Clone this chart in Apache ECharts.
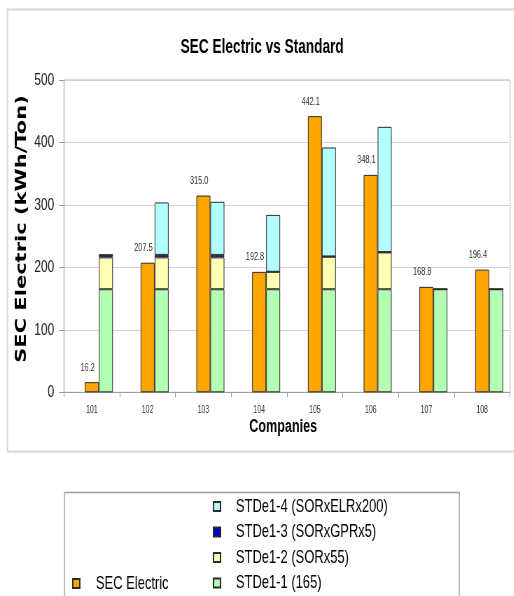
<!DOCTYPE html>
<html>
<head>
<meta charset="utf-8">
<script src="https://cdn.jsdelivr.net/npm/echarts@6/dist/echarts.min.js"></script>
<style>
  html, body { margin: 0; padding: 0; background: #fff; overflow: hidden; }
  /* the chart is laid out wide and then condensed horizontally, which gives
     the tall, narrow lettering of the original figure; the lower edge of the
     legend frame runs past the bottom of the page */
  #chart { width: 734px; height: 640px; transform: scaleX(0.7); transform-origin: 0 0; }
</style>
</head>
<body>
<div id="chart"></div>
<script>
// Companies on the category axis
const companies = ['101', '102', '103', '104', '105', '106', '107', '108'];
// Measured specific electricity consumption (kWh/Ton)
const secElectric = [16.2, 207.5, 315.0, 192.8, 442.1, 348.1, 168.8, 196.4];
// Standard components, stacked bottom to top
const stdE1_1 = [165, 165, 165, 165, 165, 165, 165, 165];
const stdE1_2 = [51, 51, 51, 28, 52, 59, 0, 0];
const stdE1_3 = [4, 4, 4, 0, 0.5, 0.5, 0, 0];
const stdE1_4 = [0, 84, 85, 91, 174.5, 200.5, 0, 0];
// Value axis ticks
const yTicks = [0, 100, 200, 300, 400, 500];

const SANS = "'Liberation Sans', Arial, sans-serif";
const EDGE = '#2b2b2b';
const BAR_W = 20;

const chart = echarts.init(document.getElementById('chart'), null, { renderer: 'canvas' });

function stdSeries(name, data, color) {
  return {
    name: name,
    type: 'bar',
    stack: 'standard',
    data: data,
    barWidth: BAR_W,
    barGap: '0%',
    itemStyle: { color: color, borderColor: EDGE, borderWidth: 1 },
    emphasis: { disabled: true }
  };
}

const legendText = { fontFamily: SANS, fontSize: 18.5, color: '#000' };

const option = {
  animation: false,
  backgroundColor: '#ffffff',
  title: {
    text: 'SEC Electric vs Standard',
    left: 253,
    top: 33,
    textStyle: { fontFamily: SANS, fontWeight: 'bold', fontSize: 19.5, color: '#000' }
  },
  legend: [
    {
      data: ['SEC Electric'],
      left: 103,
      top: 574,
      padding: 0,
      itemWidth: 10,
      itemHeight: 9,
      icon: 'rect',
      textStyle: Object.assign({ padding: [0, 0, 0, 18] }, legendText)
    },
    {
      data: ['STDe1-4 (SORxELRx200)', 'STDe1-3 (SORxGPRx5)', 'STDe1-2 (SORx55)', 'STDe1-1 (165)'],
      orient: 'vertical',
      left: 304,
      top: 497,
      padding: 0,
      itemGap: 6.5,
      itemWidth: 10,
      itemHeight: 9,
      icon: 'rect',
      textStyle: Object.assign({ padding: [0, 0, 0, 17] }, legendText)
    }
  ],
  grid: {
    left: 91.4,
    width: 637.2,
    top: 80,
    height: 312.3,
    show: true,
    borderColor: '#b5b5b5',
    borderWidth: 1,
    backgroundColor: '#ffffff'
  },
  xAxis: {
    type: 'category',
    data: companies,
    name: 'Companies',
    nameLocation: 'middle',
    nameGap: 26,
    nameTextStyle: { fontFamily: SANS, fontWeight: 'bold', fontSize: 18, color: '#000', padding: [0, 0, 0, -11] },
    axisLine: { lineStyle: { color: '#9a9a9a', width: 1 } },
    axisTick: { show: true, alignWithLabel: false, length: 5, lineStyle: { color: '#9a9a9a' } },
    axisLabel: { fontFamily: SANS, fontSize: 10, color: '#333', margin: 13 },
    splitLine: { show: false }
  },
  yAxis: {
    type: 'value',
    min: yTicks[0],
    max: yTicks[yTicks.length - 1],
    interval: yTicks[1] - yTicks[0],
    axisLine: { show: true, lineStyle: { color: '#9a9a9a', width: 1 } },
    axisTick: { show: true, length: 7, lineStyle: { color: '#9a9a9a' } },
    axisLabel: { fontFamily: SANS, fontSize: 17, color: '#222', margin: 14 },
    splitLine: { show: true, lineStyle: { color: '#d2d2d2', width: 1 } }
  },
  series: [
    {
      // empty leading slot so each company's pair sits right of the tick label
      name: 'spacer',
      type: 'bar',
      data: companies.map(() => '-'),
      barWidth: BAR_W,
      barGap: '0%',
      silent: true
    },
    {
      name: 'SEC Electric',
      type: 'bar',
      data: secElectric,
      barWidth: BAR_W,
      barGap: '0%',
      itemStyle: { color: '#FFA500', borderColor: EDGE, borderWidth: 1 },
      emphasis: { disabled: true },
      label: {
        show: true,
        position: 'top',
        distance: 9,
        offset: [-6, 0],
        fontFamily: SANS,
        fontSize: 10.5,
        color: '#333',
        formatter: p => Number(p.value).toFixed(1)
      }
    },
    stdSeries('STDe1-1 (165)', stdE1_1, '#B3FFB3'),
    stdSeries('STDe1-2 (SORx55)', stdE1_2, '#FFFFB3'),
    stdSeries('STDe1-3 (SORxGPRx5)', stdE1_3, '#0000CC'),
    stdSeries('STDe1-4 (SORxELRx200)', stdE1_4, '#B3FFFF')
  ],
  graphic: [
    {
      // outer chart frame
      type: 'rect',
      z: -10,
      shape: { x: 10.7, y: 9.5, width: 743, height: 442 },
      style: { fill: 'none', stroke: '#d6d6d6', lineWidth: 2 }
    },
    {
      // legend frame
      type: 'rect',
      z: -10,
      shape: { x: 92.1, y: 492.5, width: 564, height: 130 },
      style: { fill: 'none', stroke: '#9a9a9a', lineWidth: 1.3 }
    },
    {
      // value axis title
      type: 'text',
      x: 31.4,
      y: 229,
      rotation: Math.PI / 2,
      style: {
        text: 'SEC Electric (kWh/Ton)',
        font: 'bold 21px "DejaVu Sans", Verdana, sans-serif',
        fill: '#000',
        align: 'center',
        verticalAlign: 'middle'
      }
    }
  ]
};

chart.setOption(option);
</script>
</body>
</html>
